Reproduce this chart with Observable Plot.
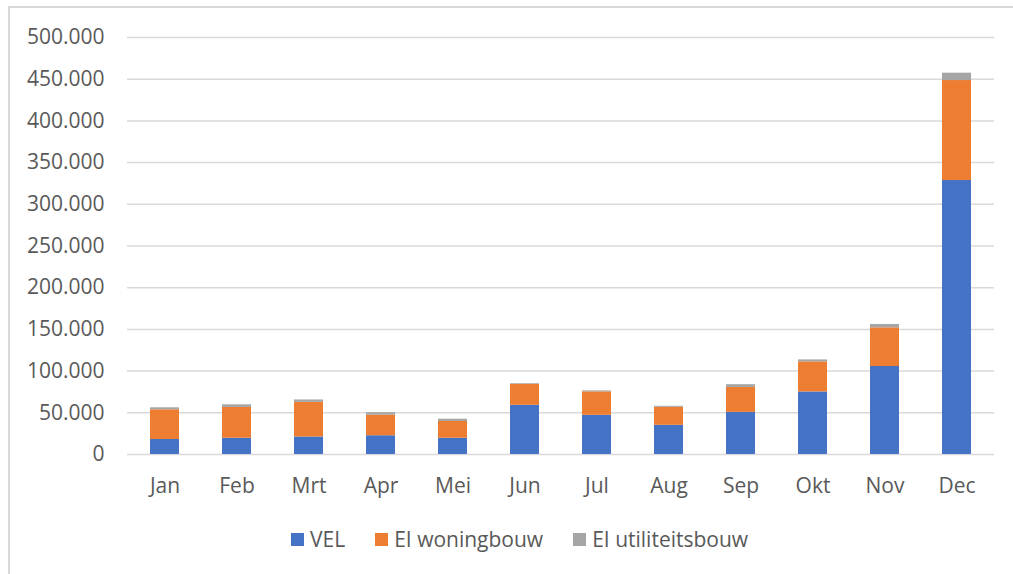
<!DOCTYPE html>
<html>
<head>
<meta charset="utf-8">
<script src="https://cdn.jsdelivr.net/npm/d3@7"></script>
<script src="https://cdn.jsdelivr.net/npm/@observablehq/plot@0.6"></script>
<style>
  html, body { margin: 0; padding: 0; background: #fff; }
  body { width: 1013px; height: 574px; position: relative; overflow: hidden; font-family: "Open Sans", sans-serif; }
  #frame { position: absolute; left: 8px; top: 6px; width: 1020px; height: 600px; border-top: 2px solid #d9d9d9; border-left: 2px solid #d9d9d9; box-sizing: border-box; }
  #chart { position: absolute; left: 0; top: 0; }
  #legend { position: absolute; left: 291px; top: 525px; display: flex; align-items: center; font-size: 21px; color: #595959; white-space: nowrap; }
  #legend .item { display: flex; align-items: center; margin-right: 30px; }
  #legend .sw { width: 13px; height: 13px; margin-right: 6px; }
</style>
</head>
<body>
<div id="frame"></div>
<div id="chart"></div>
<div id="legend"></div>
<script>
const months = ["Jan","Feb","Mrt","Apr","Mei","Jun","Jul","Aug","Sep","Okt","Nov","Dec"];
const seriesNames = ["VEL","EI woningbouw","EI utiliteitsbouw"];
const seriesColors = ["#4472C4","#ED7D31","#A5A5A5"];
const vel = [18000,19500,21000,22500,19500,59000,47000,35000,50500,75000,105500,328500];
const eiWoningbouw = [35600,36900,41500,24700,20100,25200,28100,21600,29900,36000,46400,119900];
const eiUtiliteitsbouw = [2400,3200,2900,2900,2700,800,1200,1200,3300,2400,4000,8800];
const yTicks = [0,50000,100000,150000,200000,250000,300000,350000,400000,450000,500000];

const seriesValues = [vel, eiWoningbouw, eiUtiliteitsbouw];
const data = [];
seriesNames.forEach((s, si) => months.forEach((m, mi) => data.push({month: m, series: s, value: seriesValues[si][mi]})));

const nl = d3.formatLocale({decimal: ",", thousands: ".", grouping: [3], currency: ["", ""]});
const fmt = nl.format(",");

const chart = Plot.plot({
  width: 1013,
  height: 510,
  marginLeft: 127,
  marginRight: 19,
  marginTop: 37,
  marginBottom: 56,
  style: {fontFamily: "'Open Sans', sans-serif", fontSize: "21px", color: "#595959", background: "transparent"},
  x: {domain: months, paddingInner: 0.6, paddingOuter: 0.3, label: null},
  y: {domain: [0, 500000], label: null},
  color: {domain: seriesNames, range: seriesColors},
  marks: [
    Plot.gridY(yTicks, {stroke: "#d9d9d9", strokeOpacity: 1, strokeWidth: 1.5}),
    Plot.barY(data, {x: "month", y: "value", fill: "series", order: seriesNames}),
    Plot.axisY(yTicks, {tickSize: 0, tickPadding: 23, tickFormat: fmt, fill: "#595959", label: null}),
    Plot.axisX({tickSize: 0, tickPadding: 24, fill: "#595959", label: null})
  ]
});
document.getElementById("chart").appendChild(chart);

const legend = document.getElementById("legend");
seriesNames.forEach((s, i) => {
  const item = document.createElement("div");
  item.className = "item";
  const sw = document.createElement("div");
  sw.className = "sw";
  sw.style.background = seriesColors[i];
  const t = document.createElement("span");
  t.textContent = s;
  item.appendChild(sw);
  item.appendChild(t);
  legend.appendChild(item);
});
</script>
</body>
</html>
